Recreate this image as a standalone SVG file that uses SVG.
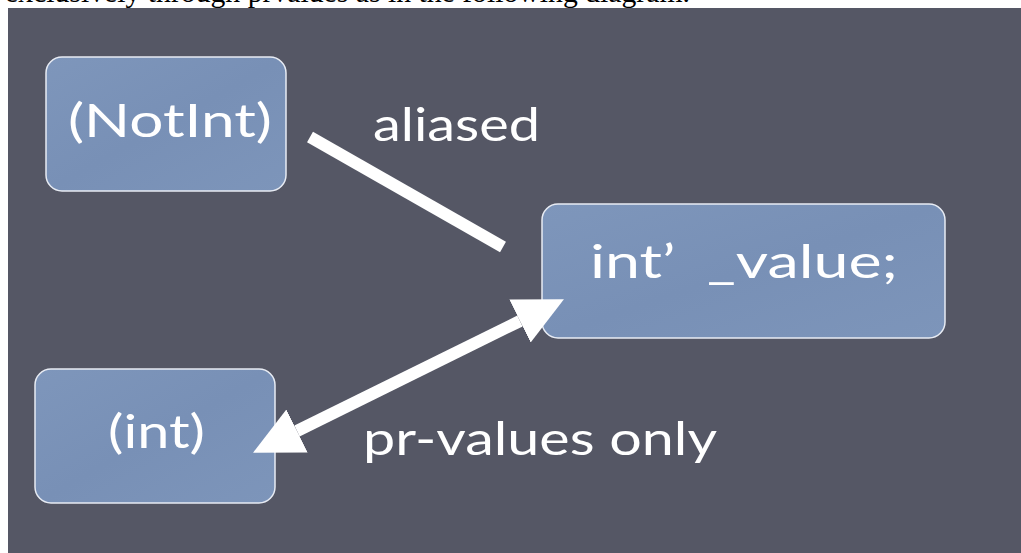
<svg xmlns="http://www.w3.org/2000/svg" width="1021" height="553" viewBox="0 0 1021 553">
<style>
.node rect{fill:url(#boxfill);stroke:#e8ecf4;stroke-width:1.5}
.lbl{font-family:"Comic Sans MS","Lato","DejaVu Sans",sans-serif;font-size:46px;fill:#ffffff;white-space:pre}
.conn{stroke:#ffffff;stroke-width:12;fill:none}
.top{font-family:"Liberation Serif",serif;font-size:30px;fill:#000}
</style>
<defs>
<linearGradient id="boxfill" x1="0" y1="0" x2="1" y2="1">
<stop offset="0" stop-color="#7e96bb"/>
<stop offset="0.5" stop-color="#7890b6"/>
<stop offset="1" stop-color="#7d95ba"/>
</linearGradient>
<marker id="head" markerUnits="userSpaceOnUse" viewBox="0 0 49 48" refX="0" refY="24" markerWidth="49" markerHeight="48" orient="auto-start-reverse">
<path d="M0,0 L49,24 L0,48 Z" fill="#ffffff"/>
</marker>
</defs>
<rect x="0" y="0" width="1021" height="553" fill="#ffffff"/>
<text class="top" x="5" y="2" textLength="685" lengthAdjust="spacingAndGlyphs">exclusively through prvalues as in the following diagram.</text>
<rect x="8" y="8" width="1013" height="545" fill="#555765"/>
<g id="node-notint" class="node">
<rect x="46" y="57" width="240" height="134" rx="16"/>
<text class="lbl" x="68" y="137" textLength="204" lengthAdjust="spacingAndGlyphs">(NotInt)</text>
</g>
<g id="node-value" class="node">
<rect x="542" y="204" width="403" height="134" rx="16"/>
<text class="lbl" x="590" y="278" textLength="308" lengthAdjust="spacingAndGlyphs">int’  _value;</text>
</g>
<g id="node-int" class="node">
<rect x="35" y="369" width="240" height="134" rx="16"/>
<text class="lbl" x="108" y="448" textLength="97" lengthAdjust="spacingAndGlyphs">(int)</text>
</g>
<g id="connectors">
<line class="conn" x1="310" y1="137" x2="503" y2="247"/>
<line class="conn" x1="297" y1="431" x2="520" y2="321" marker-start="url(#head)" marker-end="url(#head)"/>
<text class="lbl" x="373" y="141" textLength="167" lengthAdjust="spacingAndGlyphs">aliased</text>
<text class="lbl" x="363" y="455" textLength="354" lengthAdjust="spacingAndGlyphs">pr-values only</text>
</g>
</svg>
